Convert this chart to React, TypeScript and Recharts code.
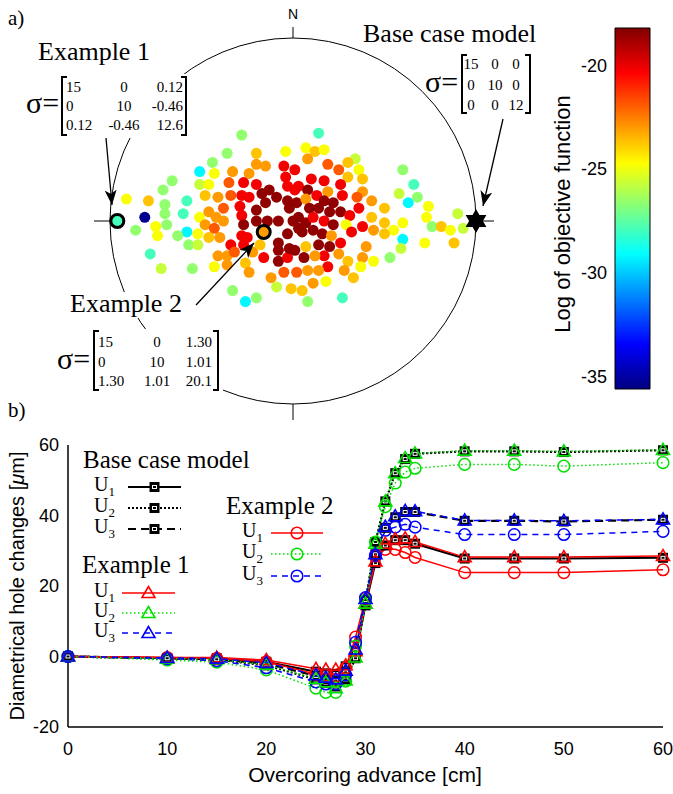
import React from "react";
import { ComposedChart, ScatterChart, Scatter, Line, Bar, XAxis, YAxis } from "recharts";

const SERIF = '"Liberation Serif", "Times New Roman", serif';
const SANS = '"Liberation Sans", Arial, sans-serif';

// panel a: trial solutions on the stereonet, [x, y, log of objective function]
const stereoPoints: [number, number, number][] = [
  [-28, 47, -26.6], [-36, 37, -26.6], [-20, 37, -23.7], [-4, 38, -24.8], [-44, 32, -26.6],
  [-51, 27, -29.2], [-43, 26, -24.8], [-33, 27, -23.0], [-20, 31, -23.0], [-15, 30, -23.0],
  [-24, 26, -23.0], [-5, 30, -20.2], [1, 28, -20.2], [-66, 22, -26.6], [-71, 17, -26.6],
  [-51, 20, -25.7], [-46, 20, -24.8], [-35, 21, -21.9], [-27, 21, -20.2], [-20, 20, -20.2],
  [-4, 24, -20.2], [-13, 17, -18.5], [-3, 19, -20.2], [1, 17, -20.2], [-48, 14, -23.7],
  [-41, 13, -23.0], [-34, 14, -21.9], [-28, 14, -20.2], [-24, 13, -20.2], [-17, 15, -18.5],
  [-15, 10, -18.5], [-9, 13, -18.5], [-3, 11, -18.5], [-91, 12, -24.8], [-79, 11, -23.7],
  [-58, 11, -27.9], [-70, 9, -26.6], [-51, 2, -24.8], [-46, 5, -23.0], [-38, 7, -21.9],
  [-29, 8, -20.2], [-20, 6, -18.5], [-2, 7, -18.5], [-81, 2, -35.3], [-60, 4, -27.9],
  [-70, 4, -26.6], [-75, -3, -24.8], [-69, -2, -26.6], [-86, -5, -26.6], [-48, -2, -23.0],
  [-42, 2, -23.0], [-43, -4, -21.9], [-38, 0, -23.0], [-28, 3, -20.2], [-27, -2, -18.5],
  [-20, 0, -18.5], [-14, 0, -18.5], [-8, 0, -18.5], [0, 0, -18.5], [-58, -6, -29.2],
  [14, 48, -27.9], [7, 40, -24.8], [12, 38, -23.7], [17, 39, -24.8], [8, 34, -23.0],
  [19, 31, -21.9], [34, 34, -25.7], [30, 32, -23.7], [25, 28, -21.9], [36, 28, -24.8],
  [30, 24, -23.7], [38, 23, -23.7], [10, 23, -20.2], [17, 22, -20.2], [3, 19, -20.2],
  [8, 17, -18.5], [26, 20, -20.2], [19, 16, -23.0], [38, 16, -23.0], [13, 14, -20.2],
  [27, 14, -20.2], [35, 13, -21.9], [43, 11, -23.0], [17, 11, -18.5], [22, 10, -18.5],
  [2, 10, -18.5], [7, 12, -23.0], [9, 7, -18.5], [14, 7, -18.5], [20, 5, -18.5],
  [26, 5, -18.5], [31, 3, -20.2], [36, 7, -20.2], [43, 2, -23.7], [50, 7, -23.7],
  [3, 2, -18.5], [7, -1, -18.5], [11, 2, -20.2], [17, 0, -20.2], [22, -2, -18.5],
  [29, -2, -24.8], [38, -3, -20.2], [44, -5, -23.0], [50, -1, -23.7], [55, -5, -24.8],
  [60, -1, -24.8], [60, 28, -26.6], [58, 15, -25.7], [66, 20, -27.9], [63, 10, -29.2],
  [68, 13, -26.6], [74, 8, -24.8], [73, 2, -24.8], [76, -3, -26.6], [81, -3, -23.7],
  [86, -5, -24.8], [90, 4, -25.7], [93, -4, -25.7], [3, -4, -18.5], [11, -5, -18.5],
  [16, -7, -18.5], [32, -6, -20.2], [-74, -8, -24.8], [-63, -8, -26.6], [-52, -7, -24.8],
  [-57, -13, -26.6], [-52, -13, -25.7], [-46, -9, -23.7], [-40, -9, -23.0], [-78, -18, -27.9],
  [-72, -26, -25.7], [-55, -26, -26.6], [-43, -25, -24.8], [-41, -19, -23.0], [-36, -19, -23.0],
  [-34, -13, -20.2], [-28, -8, -20.2], [-25, -9, -20.2], [-27, -13, -20.2], [-32, -17, -21.9],
  [-22, -17, -23.0], [-26, -23, -23.7], [-24, -28, -23.0], [-36, -24, -23.0], [-18, -13, -23.7],
  [-16, -20, -20.2], [-8, -22, -18.5], [-3, -20, -20.2], [-8, -16, -18.5], [-2, -15, -18.5],
  [-8, -12, -18.5], [-3, -7, -18.5], [-12, -31, -23.0], [-5, -28, -21.9], [2, -28, -21.9],
  [-9, -36, -25.7], [-1, -37, -23.7], [-33, -38, -26.6], [-20, -42, -26.6], [-26, -44, -29.2],
  [5, -6, -18.5], [21, -8, -23.0], [50, -7, -23.7], [60, -10, -29.2], [72, -12, -24.8],
  [88, -12, -23.7], [59, -15, -25.7], [53, -20, -26.6], [44, -22, -24.8], [40, -14, -23.0],
  [38, -20, -23.0], [37, -25, -24.8], [30, -22, -23.7], [25, -18, -23.0], [28, -27, -23.0],
  [33, -31, -23.7], [20, -14, -18.5], [14, -13, -18.5], [26, -12, -20.2], [17, -19, -20.2],
  [19, -25, -20.2], [12, -19, -23.0], [6, -20, -18.5], [7, -14, -23.7], [1, -16, -18.5],
  [14, -27, -23.0], [8, -27, -23.0], [11, -34, -23.0], [18, -33, -24.8], [5, -38, -23.7],
  [8, -44, -26.6], [27, -42, -27.9],
];
const example1Point = [{ x: -96, y: 0, v: -27.9 }];
const example2Point = [{ x: -16, y: -6, v: -23.0 }];
const baseCasePoint = [{ x: 100, y: 0 }];

const colorMin = -35.6;
const colorMax = -18.2;
const colorTicks = [-35, -30, -25, -20];
const colorMinorTicks = [-35, -34, -33, -32, -31, -30, -29, -28, -27, -26, -25, -24, -23, -22, -21, -20, -19];

// panel b: diametrical hole changes vs overcoring advance
const advance = [0, 10, 15, 20, 25, 26, 27, 28, 29, 30, 31, 32, 33, 34, 35, 40, 45, 50, 60];
const baseU1 = [0, -0.4, -0.5, -1.5, -4.3, -4.8, -5.0, -2.8, 0.5, 14.5, 26.5, 31.5, 33.0, 33.0, 32.0, 27.8, 27.8, 27.8, 28.0];
const baseU2 = [0, -0.6, -0.9, -2.5, -6.5, -7.5, -8.5, -6.5, -0.5, 15.5, 32.5, 44.0, 52.0, 56.0, 57.5, 58.2, 58.2, 58.0, 58.5];
const baseU3 = [0, -0.5, -0.8, -2.0, -5.5, -6.5, -6.8, -4.5, 1.5, 16.0, 29.0, 36.5, 39.5, 41.0, 41.0, 38.5, 38.5, 38.3, 38.8];
const ex1U1 = [0, -0.3, -0.3, -1.0, -3.5, -3.7, -3.7, -2.5, 1.5, 15.0, 27.0, 32.0, 33.3, 33.5, 32.5, 28.2, 28.2, 28.2, 28.5];
const ex1U2 = [0, -0.6, -0.8, -2.3, -6.3, -7.3, -9.0, -6.8, -0.3, 15.0, 32.0, 44.0, 52.0, 56.3, 57.6, 58.4, 58.4, 58.2, 58.6];
const ex1U3 = [0, -0.4, -0.6, -1.8, -5.3, -6.0, -6.5, -4.0, 2.0, 16.3, 29.0, 36.8, 39.8, 41.3, 41.2, 38.6, 38.6, 38.5, 38.9];
const ex2U1 = [0, -0.3, -0.5, -1.5, -5.0, -5.3, -5.5, -3.2, 5.5, 16.5, 28.5, 30.4, 30.4, 29.5, 28.1, 23.8, 23.8, 23.8, 24.6];
const ex2U2 = [0, -1.0, -1.6, -3.8, -9.0, -10.2, -10.2, -7.0, 3.0, 16.0, 32.5, 42.5, 49.2, 52.3, 53.4, 54.5, 54.5, 54.0, 55.0];
const ex2U3 = [0, -0.6, -1.2, -3.2, -7.2, -7.8, -7.8, -5.2, 4.0, 16.7, 28.7, 35.8, 36.7, 37.5, 36.7, 34.6, 34.6, 34.6, 35.5];

const xMajor = [0, 10, 20, 30, 40, 50, 60];
const xMinor = [0, 2, 4, 6, 8, 10, 12, 14, 16, 18, 20, 22, 24, 26, 28, 30, 32, 34, 36, 38, 40, 42, 44, 46, 48, 50, 52, 54, 56, 58, 60];
const yMajor = [-20, 0, 20, 40, 60];
const yMinor = [-20, -15, -10, -5, 0, 5, 10, 15, 20, 25, 30, 35, 40, 45, 50, 55, 60];

const holeData = advance.map((adv, i) => ({
  adv,
  baseU1: baseU1[i], baseU2: baseU2[i], baseU3: baseU3[i],
  ex1U1: ex1U1[i], ex1U2: ex1U2[i], ex1U3: ex1U3[i],
  ex2U1: ex2U1[i], ex2U2: ex2U2[i], ex2U3: ex2U3[i],
}));

const RED = "#ff0000";
const GREEN = "#00e000";
const BLUE = "#0000ff";

const holeSeries = [
  { key: "baseU1", color: "#000", dash: undefined, width: 2, marker: "square" },
  { key: "baseU2", color: "#000", dash: "2 2", width: 2.2, marker: "square" },
  { key: "baseU3", color: "#000", dash: "8 5", width: 2.2, marker: "square" },
  { key: "ex2U1", color: RED, dash: undefined, width: 1.5, marker: "circle" },
  { key: "ex2U2", color: GREEN, dash: "1.5 2.5", width: 1.5, marker: "circle" },
  { key: "ex2U3", color: BLUE, dash: "6 5", width: 1.5, marker: "circle" },
  { key: "ex1U1", color: RED, dash: undefined, width: 1.5, marker: "triangle" },
  { key: "ex1U2", color: GREEN, dash: "1.5 2.5", width: 1.5, marker: "triangle" },
  { key: "ex1U3", color: BLUE, dash: "6 5", width: 1.5, marker: "triangle" },
];

function jet(v: number): string {
  const t = (v - colorMin) / (colorMax - colorMin);
  const ch = (o: number) => Math.round(255 * Math.max(0, Math.min(1, 1.5 - Math.abs(4 * t - o))));
  return `rgb(${ch(3)},${ch(2)},${ch(1)})`;
}

function mark(kind: string, cx: number, cy: number, color: string, key?: string) {
  if (kind === "square") {
    return (
      <g key={key}>
        <rect x={cx - 5} y={cy - 5} width={10} height={10} fill="#000" />
        <rect x={cx - 2} y={cy - 1.5} width={4} height={3} fill="none" stroke="#fff" strokeWidth={1} />
      </g>
    );
  }
  if (kind === "triangle") {
    return (
      <polygon key={key} points={`${cx},${cy - 6.5} ${cx - 6.5},${cy + 4.5} ${cx + 6.5},${cy + 4.5}`}
        fill="none" stroke={color} strokeWidth={1.6} />
    );
  }
  return <circle key={key} cx={cx} cy={cy} r={5.8} fill="none" stroke={color} strokeWidth={1.5} />;
}

function hexagram(p: any) {
  const pts = Array.from({ length: 12 }, (_, k) => {
    const a = ((-90 + k * 30) * Math.PI) / 180;
    const rr = k % 2 === 0 ? 12 : 6.9;
    return `${p.cx + rr * Math.cos(a)},${p.cy + rr * Math.sin(a)}`;
  }).join(" ");
  return <polygon points={pts} fill="#000" />;
}

function Matrix({ rows, cols, baselines }: { rows: string[][]; cols: [number, string][]; baselines: number[] }) {
  return (
    <g fontFamily={SERIF} fontSize={15}>
      {rows.map((r, i) =>
        r.map((s, j) => (
          <text key={`${i}-${j}`} x={cols[j][0]} y={baselines[i]} textAnchor={cols[j][1] as any}>{s}</text>
        ))
      )}
    </g>
  );
}

function Bracket({ x, top, bottom, dir }: { x: number; top: number; bottom: number; dir: number }) {
  return <path d={`M${x + dir * 5},${top} H${x} V${bottom} H${x + dir * 5}`} fill="none" stroke="#000" strokeWidth={2} />;
}

const legendGroups = [
  { title: "Base case model", tx: 83, ty: 468, ux: 94, x1: 128, x2: 181, rows: [487, 508, 529], keys: ["baseU1", "baseU2", "baseU3"] },
  { title: "Example 1", tx: 82, ty: 573, ux: 94, x1: 122, x2: 175, rows: [593, 613, 633], keys: ["ex1U1", "ex1U2", "ex1U3"] },
  { title: "Example 2", tx: 226, ty: 514, ux: 242, x1: 271, x2: 323, rows: [533, 554, 576], keys: ["ex2U1", "ex2U2", "ex2U3"] },
];

export default function App() {
  const abs = (l: number, t: number): React.CSSProperties => ({ position: "absolute", left: l, top: t });
  return (
    <div style={{ position: "absolute", left: 0, top: 0, width: 673, height: 794, background: "#fff", overflow: "hidden" }}>
      {/* stereonet frame, under the points */}
      <svg width={673} height={420} style={abs(0, 0)}>
        <circle cx={293} cy={221} r={183} fill="none" stroke="#000" strokeWidth={1} />
        <line x1={293} y1={27} x2={293} y2={38} stroke="#000" />
        <line x1={293} y1={404} x2={293} y2={420} stroke="#000" />
        <line x1={94} y1={221} x2={110} y2={221} stroke="#000" />
        <line x1={476} y1={221} x2={494} y2={221} stroke="#000" />
      </svg>

      <ScatterChart width={673} height={420} margin={{ top: 38, right: 197, bottom: 16, left: 110 }} style={abs(0, 0)}>
        <XAxis type="number" dataKey="x" domain={[-100, 100]} hide />
        <YAxis type="number" dataKey="y" domain={[-100, 100]} hide />
        <Scatter data={stereoPoints.map(([x, y, v]) => ({ x, y, v }))} isAnimationActive={false}
          shape={(p: any) => <circle cx={p.cx} cy={p.cy} r={5.5} fill={jet(p.payload.v)} />} />
        <Scatter data={example1Point} isAnimationActive={false}
          shape={(p: any) => <circle cx={p.cx} cy={p.cy} r={6.5} fill={jet(p.payload.v)} stroke="#000" strokeWidth={3} />} />
        <Scatter data={example2Point} isAnimationActive={false}
          shape={(p: any) => <circle cx={p.cx} cy={p.cy} r={6.5} fill={jet(p.payload.v)} stroke="#000" strokeWidth={3} />} />
        <Scatter data={baseCasePoint} isAnimationActive={false} shape={hexagram} />
      </ScatterChart>

      <ComposedChart width={113} height={420} data={[{ name: "cb", range: [colorMin, colorMax] }]}
        margin={{ top: 28, right: 23, bottom: 31, left: 5 }} barCategoryGap={0} style={abs(560, 0)}>
        <defs>
          <linearGradient id="jetGradient" x1="0" y1="1" x2="0" y2="0">
            <stop offset="0" stopColor="#000080" />
            <stop offset="0.125" stopColor="#0000ff" />
            <stop offset="0.375" stopColor="#00ffff" />
            <stop offset="0.625" stopColor="#ffff00" />
            <stop offset="0.875" stopColor="#ff0000" />
            <stop offset="1" stopColor="#800000" />
          </linearGradient>
        </defs>
        <XAxis dataKey="name" type="category" hide />
        <Bar dataKey="range" fill="url(#jetGradient)" stroke="#000" strokeWidth={1} isAnimationActive={false} />
        <YAxis type="number" domain={[colorMin, colorMax]} ticks={colorTicks} width={50} axisLine={false}
          tickLine={false} tickSize={0} tickMargin={8} tick={{ fill: "#000", fontSize: 18, fontFamily: SANS }} />
        <YAxis yAxisId="cbl" type="number" domain={[colorMin, colorMax]} ticks={colorMinorTicks} mirror width={0}
          axisLine={false} tick={false} tickSize={3} tickLine={{ stroke: "#000" }} allowDataOverflow />
        <YAxis yAxisId="cbr" orientation="right" type="number" domain={[colorMin, colorMax]} ticks={colorMinorTicks} mirror width={0}
          axisLine={false} tick={false} tickSize={3} tickLine={{ stroke: "#000" }} allowDataOverflow />
      </ComposedChart>

      <ComposedChart width={673} height={394} data={holeData} margin={{ top: 45, right: 10, bottom: 37, left: 18 }} style={abs(0, 400)}>
        {holeSeries.map((s) => (
          <Line key={s.key} xAxisId="main" yAxisId="main" dataKey={s.key} type="linear" stroke={s.color}
            strokeWidth={s.width} strokeDasharray={s.dash} isAnimationActive={false} activeDot={false}
            dot={(p: any) => mark(s.marker, p.cx, p.cy, s.color, `${s.key}-${p.index}`)} />
        ))}
        <XAxis xAxisId="main" dataKey="adv" type="number" domain={[0, 60]} ticks={xMajor} height={30}
          axisLine={{ stroke: "#000", strokeWidth: 1.5 }} tickLine={false} tickSize={0} tickMargin={15}
          tick={{ fill: "#000", fontSize: 18, fontFamily: SANS }} />
        <YAxis yAxisId="main" type="number" domain={[-20, 60]} ticks={yMajor} width={50}
          axisLine={{ stroke: "#000", strokeWidth: 1.5 }} tickLine={false} tickSize={0} tickMargin={9}
          tick={{ fill: "#000", fontSize: 18, fontFamily: SANS }} />
        <XAxis xAxisId="bMin" type="number" domain={[0, 60]} ticks={xMinor} mirror height={0} axisLine={false}
          tick={false} tickSize={4} tickLine={{ stroke: "#000" }} allowDataOverflow />
        <XAxis xAxisId="bMaj" type="number" domain={[0, 60]} ticks={xMajor} mirror height={0} axisLine={false}
          tick={false} tickSize={7} tickLine={{ stroke: "#000" }} allowDataOverflow />
        <XAxis xAxisId="tMin" orientation="top" type="number" domain={[0, 60]} ticks={xMinor} mirror height={0}
          axisLine={{ stroke: "#000", strokeWidth: 1.5 }} tick={false} tickSize={4} tickLine={{ stroke: "#000" }} allowDataOverflow />
        <XAxis xAxisId="tMaj" orientation="top" type="number" domain={[0, 60]} ticks={xMajor} mirror height={0}
          axisLine={false} tick={false} tickSize={7} tickLine={{ stroke: "#000" }} allowDataOverflow />
        <YAxis yAxisId="lMin" type="number" domain={[-20, 60]} ticks={yMinor} mirror width={0} axisLine={false}
          tick={false} tickSize={4} tickLine={{ stroke: "#000" }} allowDataOverflow />
        <YAxis yAxisId="lMaj" type="number" domain={[-20, 60]} ticks={yMajor} mirror width={0} axisLine={false}
          tick={false} tickSize={7} tickLine={{ stroke: "#000" }} allowDataOverflow />
        <YAxis yAxisId="rMin" orientation="right" type="number" domain={[-20, 60]} ticks={yMinor} mirror width={0}
          axisLine={{ stroke: "#000", strokeWidth: 1.5 }} tick={false} tickSize={4} tickLine={{ stroke: "#000" }} allowDataOverflow />
        <YAxis yAxisId="rMaj" orientation="right" type="number" domain={[-20, 60]} ticks={yMajor} mirror width={0}
          axisLine={false} tick={false} tickSize={7} tickLine={{ stroke: "#000" }} allowDataOverflow />
      </ComposedChart>

      {/* annotations */}
      <svg width={673} height={794} style={{ ...abs(0, 0), pointerEvents: "none" }}>
        <defs>
          <marker id="arrowHead" markerUnits="userSpaceOnUse" markerWidth={16} markerHeight={12} refX={15} refY={6} orient="auto">
            <path d="M0,0 L15,6 L0,12 L4,6 Z" fill="#000" />
          </marker>
        </defs>
        <text x={8} y={25} fontFamily={SERIF} fontSize={21}>a)</text>
        <text x={293} y={19} textAnchor="middle" fontFamily={SANS} fontSize={14}>N</text>

        {/* Example 1 */}
        <text x={38} y={60} fontFamily={SERIF} fontSize={26}>Example 1</text>
        <rect x={24} y={74} width={166} height={64} fill="#fff" />
        <text x={26} y={113} fontFamily={SERIF} fontSize={30}>σ=</text>
        <Bracket x={62} top={77} bottom={135} dir={1} />
        <Bracket x={186} top={77} bottom={135} dir={-1} />
        <Matrix baselines={[92, 111, 130]} cols={[[66, "start"], [124, "middle"], [183, "end"]]}
          rows={[["15", "0", "0.12"], ["0", "10", "-0.46"], ["0.12", "-0.46", "12.6"]]} />
        <line x1={106} y1={138} x2={112} y2={205} stroke="#000" strokeWidth={1.3} markerEnd="url(#arrowHead)" />

        {/* Base case */}
        <text x={363} y={42} fontFamily={SERIF} fontSize={26}>Base case model</text>
        <text x={425} y={92} fontFamily={SERIF} fontSize={30}>σ=</text>
        <Bracket x={462} top={55} bottom={113} dir={1} />
        <Bracket x={530} top={55} bottom={113} dir={-1} />
        <Matrix baselines={[69, 90, 110]} cols={[[471, "middle"], [495, "middle"], [516, "middle"]]}
          rows={[["15", "0", "0"], ["0", "10", "0"], ["0", "0", "12"]]} />
        <line x1={503} y1={119} x2={483} y2={206} stroke="#000" strokeWidth={1.3} markerEnd="url(#arrowHead)" />

        {/* Example 2 */}
        <rect x={67} y={292} width={119} height={26} fill="#fff" />
        <text x={70} y={312} fontFamily={SERIF} fontSize={26}>Example 2</text>
        <rect x={55} y={329} width={168} height={64} fill="#fff" />
        <text x={57} y={369} fontFamily={SERIF} fontSize={30}>σ=</text>
        <Bracket x={94} top={331} bottom={390} dir={1} />
        <Bracket x={218} top={331} bottom={390} dir={-1} />
        <Matrix baselines={[347, 367, 386]} cols={[[98, "start"], [157, "middle"], [212, "end"]]}
          rows={[["15", "0", "1.30"], ["0", "10", "1.01"], ["1.30", "1.01", "20.1"]]} />
        <line x1={196} y1={305} x2={254} y2={243} stroke="#000" strokeWidth={1.3} markerEnd="url(#arrowHead)" />

        {/* colorbar title */}
        <text x={570} y={214} transform="rotate(-90 570 214)" textAnchor="middle" fontFamily={SANS} fontSize={22}>
          Log of objective function
        </text>

        {/* panel b */}
        <text x={8} y={417} fontFamily={SERIF} fontSize={21}>b)</text>
        <text x={365} y={782} textAnchor="middle" fontFamily={SANS} fontSize={21}>Overcoring advance [cm]</text>
        <text x={24} y={586} transform="rotate(-90 24 586)" textAnchor="middle" fontFamily={SANS} fontSize={20}>
          Diametrical hole changes [<tspan fontStyle="italic">μ</tspan>m]
        </text>

        {legendGroups.map((g) => (
          <g key={g.title}>
            <text x={g.tx} y={g.ty} fontFamily={SERIF} fontSize={25}>{g.title}</text>
            {g.keys.map((k, i) => {
              const s = holeSeries.find((h) => h.key === k)!;
              const y = g.rows[i];
              return (
                <g key={k}>
                  <text x={g.ux} y={y + 4} fontFamily={SERIF} fontSize={20}>
                    U<tspan dy={5} fontSize={13}>{i + 1}</tspan>
                  </text>
                  <line x1={g.x1} y1={y} x2={g.x2} y2={y} stroke={s.color} strokeWidth={s.width} strokeDasharray={s.dash} />
                  {mark(s.marker, (g.x1 + g.x2) / 2, y, s.color)}
                </g>
              );
            })}
          </g>
        ))}
      </svg>
    </div>
  );
}
